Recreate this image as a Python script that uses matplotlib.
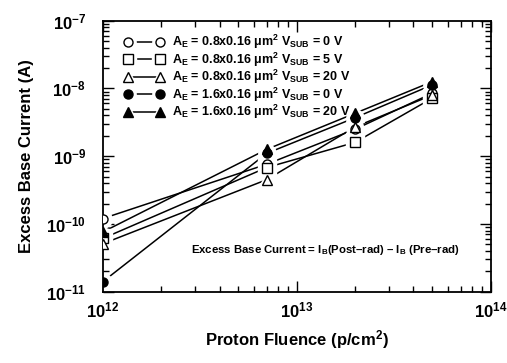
import matplotlib
matplotlib.use('Agg')
import matplotlib.pyplot as plt
from matplotlib.lines import Line2D
from matplotlib.legend_handler import HandlerTuple
import numpy as np

plt.rcParams['font.family'] = ['Liberation Sans', 'DejaVu Sans']
plt.rcParams['font.weight'] = 'bold'
plt.rcParams['mathtext.fontset'] = 'custom'
plt.rcParams['mathtext.rm'] = 'Liberation Sans:bold'
plt.rcParams['mathtext.it'] = 'Liberation Sans:bold'
plt.rcParams['mathtext.bf'] = 'Liberation Sans:bold'
plt.rcParams['mathtext.default'] = 'rm'

# proton fluence (p/cm^2)
fluence = [1e12, 7e12, 2e13, 5e13]

# excess base current (A)
ib_08_0v = [1.2e-10, 7.6e-10, 2.5e-9, 8.5e-9]
ib_08_5v = [6.1e-11, 6.8e-10, 1.6e-9, 7.2e-9]
ib_08_20v = [5.1e-11, 4.5e-10, 2.7e-9, 8.0e-9]
ib_16_0v = [1.4e-11, 1.1e-9, 3.7e-9, 1.13e-8]
ib_16_20v = [7.6e-11, 1.26e-9, 4.3e-9, 1.26e-8]

labels = [
    r'A$_E$ = 0.8x0.16 $\mu$m$^2$ V$_{SUB}$ = 0 V',
    r'A$_E$ = 0.8x0.16 $\mu$m$^2$ V$_{SUB}$ = 5 V',
    r'A$_E$ = 0.8x0.16 $\mu$m$^2$ V$_{SUB}$ = 20 V',
    r'A$_E$ = 1.6x0.16 $\mu$m$^2$ V$_{SUB}$ = 0 V',
    r'A$_E$ = 1.6x0.16 $\mu$m$^2$ V$_{SUB}$ = 20 V',
]
series = [ib_08_0v, ib_08_5v, ib_08_20v, ib_16_0v, ib_16_20v]
markers = ['o', 's', '^', 'o', '^']
filled = [False, False, False, True, True]

fig = plt.figure(figsize=(5.07, 3.63), dpi=100)
ax = fig.add_axes([0.2026, 0.1964, 0.7652, 0.7466])
ax.set_xscale('log')
ax.set_yscale('log')

handles = []
for ys, m, f in zip(series, markers, filled):
    fc = 'black' if f else 'white'
    ax.plot(fluence, ys, '-', color='black', lw=1.1, zorder=1)
    # white halo so the lines stop short of the symbols
    ax.plot(fluence, ys, m, ls='none', ms=12.5, mfc='white', mec='white', zorder=2)
    ax.plot(fluence, ys, m, ls='none', ms=6.5, mfc=fc, mec='black', mew=1.0, zorder=3)
    h_line = Line2D([], [], color='black', lw=1.1)
    h_halo = Line2D([], [], marker=m, ls='none', ms=11, mfc='white', mec='white')
    h_mark = Line2D([], [], marker=m, ls='none', ms=6.5, mfc=fc, mec='black', mew=1.0)
    handles.append((h_line, h_halo, h_mark))

ax.legend(handles, labels, handler_map={tuple: HandlerTuple(ndivide=1, pad=0)},
          loc='upper left', bbox_to_anchor=(0.055, 0.955), frameon=False,
          borderpad=0, borderaxespad=0, numpoints=2, handlelength=3.16,
          handletextpad=0.66, labelspacing=-0.05, fontsize=9)

ax.set_xlim(1e12, 1e14)
ax.set_ylim(1e-11, 1e-7)

ax.text(0.575, 0.155, r'Excess Base Current = I$_B$(Post–rad) – I$_B$ (Pre–rad)',
        transform=ax.transAxes, ha='center', va='center', fontsize=8.2)

ax.set_xlabel('Proton Fluence (p/cm$^2$)', fontsize=12, fontweight='bold', labelpad=6)
ax.set_ylabel('Excess Base Current (A)', fontsize=12, fontweight='bold', labelpad=9)

ax.tick_params(which='both', direction='in', top=True, right=True, width=1.0)
ax.tick_params(which='major', length=8, labelsize=12)
ax.tick_params(axis='x', which='major', pad=6)
ax.tick_params(axis='y', which='major', pad=12)
ax.tick_params(which='minor', length=4)
for s in ax.spines.values():
    s.set_linewidth(1.3)

fig.savefig('out.png', dpi=100)
